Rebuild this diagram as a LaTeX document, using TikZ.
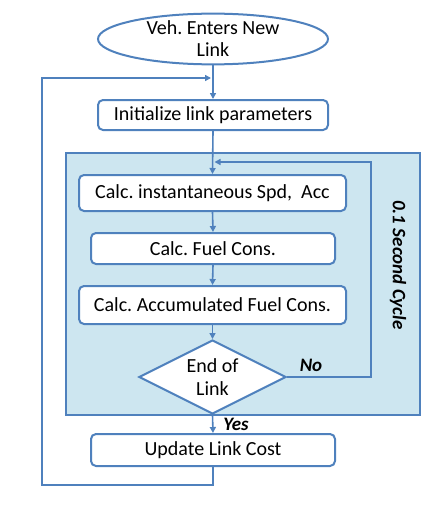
\documentclass[tikz,border=0pt]{standalone}
\usepackage{fontspec}
\setmainfont{Carlito}
\usetikzlibrary{shapes.geometric,arrows.meta}
\definecolor{lineblue}{RGB}{79,129,189}
\definecolor{cyclefill}{RGB}{205,230,240}
\frenchspacing
\tikzset{
  boxnode/.style={draw=lineblue,line width=2pt,fill=white,rounded corners=5pt,inner sep=0pt,font=\fontsize{20}{22}\selectfont},
  conn/.style={draw=lineblue,line width=1.6pt},
  arr/.style={conn,-{Triangle[length=6pt,width=6pt]}},
  lbl/.style={font=\fontsize{19}{21}\selectfont\bfseries\itshape},
}
\begin{document}
\begin{tikzpicture}[x=1pt,y=-1pt]
\useasboundingbox (0,0) rectangle (438,511);
\fill[cyclefill,draw=lineblue,line width=2pt] (66,153) rectangle (420,415);
\node[ellipse,draw=lineblue,line width=2pt,fill=white,minimum width=230pt,minimum height=46pt,inner sep=0pt,align=center,font=\fontsize{20}{22}\selectfont] (start) at (213,39) {Veh. Enters New\\[0pt]Link};
\node[boxnode,minimum width=230pt,minimum height=30pt] (init) at (213,115) {Initialize link parameters};
\node[boxnode,minimum width=267pt,minimum height=36pt] (inst) at (212.5,193) {Calc. instantaneous Spd,\ \ Acc};
\node[boxnode,minimum width=244pt,minimum height=31pt] (fuel) at (213,248.5) {Calc. Fuel Cons.};
\node[boxnode,minimum width=267pt,minimum height=38pt] (accum) at (212.5,305) {Calc. Accumulated Fuel Cons.};
\node[diamond,draw=lineblue,line width=2pt,fill=white,minimum width=147pt,minimum height=74pt,inner sep=0pt,aspect=2,align=center,font=\fontsize{20}{22}\selectfont] (end) at (212.5,377) {End of\\[1pt]Link};
\node[boxnode,minimum width=244pt,minimum height=32pt] (upd) at (213,450) {Update Link Cost};
\node[lbl,rotate=-90] (cyc) at (398,265) {0.1 Second Cycle};
\node[lbl] (no) at (311,365) {No};
\node[lbl] (yes) at (236,424) {Yes};
\coordinate (j1) at (213,78);
\coordinate (j2) at (213,162);
\coordinate (r1) at (371,377);
\coordinate (r2) at (371,162);
\coordinate (b1) at (213,485);
\coordinate (b2) at (42,485);
\coordinate (b3) at (42,78);
\draw[arr] (start.south) -- (init.north);
\draw[arr] (init.south) -- (inst.north);
\draw[arr] (inst.south) -- (fuel.north);
\draw[arr] (fuel.south) -- (accum.north);
\draw[arr] (accum.south) -- (end.north);
\draw[arr] (end.south) -- (upd.north);
\draw[arr] (end.east) -- (r1) -- (r2) -- ([xshift=1.5pt]j2);
\draw[arr] (upd.south) -- (b1) -- (b2) -- (b3) -- ([xshift=-2pt]j1);
\end{tikzpicture}
\end{document}
